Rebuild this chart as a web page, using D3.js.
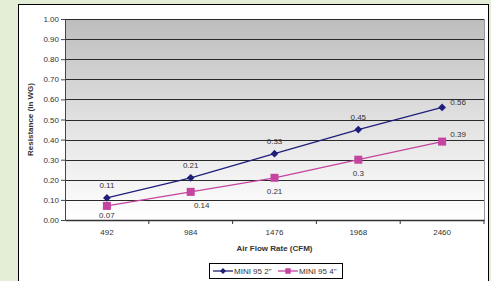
<!DOCTYPE html>
<html>
<head>
<script src="https://cdn.jsdelivr.net/npm/d3@7/dist/d3.min.js"></script>
<style>
  body { margin: 0; background: #e4edd5; }
  text { font-family: "Liberation Sans", Arial, sans-serif; fill: #333; }
</style>
</head>
<body>
<div id="chart"></div>
<script>
var categories = ["492", "984", "1476", "1968", "2460"];
var series2in = [0.11, 0.21, 0.33, 0.45, 0.56];
var series4in = [0.07, 0.14, 0.21, 0.3, 0.39];
var seriesNames = ['MINI 95 2"', 'MINI 95 4"'];
var yTicks = [0, 0.1, 0.2, 0.3, 0.4, 0.5, 0.6, 0.7, 0.8, 0.9, 1.0];

var W = 491, H = 281;
var svg = d3.select("#chart").append("svg")
    .attr("width", W).attr("height", H);

// chart box
svg.append("rect")
    .attr("x", 18.5).attr("y", 4.5)
    .attr("width", 470).attr("height", 290)
    .attr("fill", "#fff").attr("stroke", "#000").attr("stroke-width", 1);

var pLeft = 65, pRight = 484, pTop = 19, pBottom = 220;

var x = d3.scaleBand().domain(categories).range([pLeft, pRight]);
var y = d3.scaleLinear().domain([0, 1]).range([pBottom, pTop]);

var grad = svg.append("defs").append("linearGradient")
    .attr("id", "bg").attr("x1", 0).attr("y1", 0).attr("x2", 0).attr("y2", 1);
grad.append("stop").attr("offset", "0%").attr("stop-color", "#bdbdbd");
grad.append("stop").attr("offset", "55%").attr("stop-color", "#e4e4e4");
grad.append("stop").attr("offset", "100%").attr("stop-color", "#ffffff");

svg.append("rect")
    .attr("x", pLeft).attr("y", pTop)
    .attr("width", pRight - pLeft).attr("height", pBottom - pTop)
    .attr("fill", "url(#bg)");

// gridlines
svg.append("g").selectAll("line")
    .data(yTicks.slice(1))
    .enter().append("line")
    .attr("x1", pLeft).attr("x2", pRight)
    .attr("y1", function(d) { return Math.round(y(d)) + 0.5; })
    .attr("y2", function(d) { return Math.round(y(d)) + 0.5; })
    .attr("stroke", "#2a2a2a").attr("stroke-width", 1.2);

// right edge
svg.append("line")
    .attr("x1", pRight + 0.5).attr("x2", pRight + 0.5)
    .attr("y1", pTop).attr("y2", pBottom)
    .attr("stroke", "#999");

// y axis
var yAxis = svg.append("g")
    .attr("transform", "translate(" + pLeft + ",0)")
    .call(d3.axisLeft(y).tickValues(yTicks).tickFormat(d3.format(".2f")).tickSize(4).tickSizeOuter(0));
yAxis.select(".domain").attr("stroke", "#444");
yAxis.selectAll(".tick line").attr("stroke", "#444");
yAxis.selectAll("text").style("font-size", "8px").attr("x", -6).attr("fill", "#333")
    .style("font-family", "Liberation Sans, Arial, sans-serif");

// x axis
var xAxis = svg.append("g")
    .attr("transform", "translate(0," + pBottom + ")")
    .call(d3.axisBottom(x).tickSize(0).tickSizeOuter(0));
xAxis.select(".domain").attr("stroke", "#333").attr("stroke-width", 1.5);
xAxis.selectAll("text").style("font-size", "8px").attr("dy", "1.5em").attr("fill", "#333")
    .style("font-family", "Liberation Sans, Arial, sans-serif");
// tick marks at category boundaries
svg.append("g").selectAll("line")
    .data(categories.slice(1).concat(["end"]))
    .enter().append("line")
    .attr("x1", function(d, i) { return i < categories.length - 1 ? x(d) : pRight; })
    .attr("x2", function(d, i) { return i < categories.length - 1 ? x(d) : pRight; })
    .attr("y1", pBottom).attr("y2", pBottom + 4)
    .attr("stroke", "#333");

svg.append("text")
    .attr("x", (pLeft + pRight) / 2).attr("y", 251)
    .attr("text-anchor", "middle")
    .style("font-size", "8px").style("font-weight", "bold")
    .text("Air Flow Rate (CFM)");

svg.append("text")
    .attr("transform", "translate(33," + ((pTop + pBottom) / 2) + ") rotate(-90)")
    .attr("text-anchor", "middle")
    .style("font-size", "8px").style("font-weight", "bold")
    .text("Resistance (in WG)");

var cx = function(d, i) { return x(categories[i]) + x.bandwidth() / 2; };
var line = d3.line().x(cx).y(function(d) { return y(d); });

var colors = ["#1f1f7a", "#c4449f"];

// series lines
[series2in, series4in].forEach(function(s, k) {
    svg.append("path").datum(s)
        .attr("d", line)
        .attr("fill", "none").attr("stroke", colors[k]).attr("stroke-width", 1.3);
});

// markers
svg.append("g").selectAll("path")
    .data(series2in).enter().append("path")
    .attr("transform", function(d, i) { return "translate(" + cx(d, i) + "," + y(d) + ") rotate(45)"; })
    .attr("d", d3.symbol().type(d3.symbolSquare).size(30))
    .attr("fill", colors[0]);
svg.append("g").selectAll("rect")
    .data(series4in).enter().append("rect")
    .attr("x", function(d, i) { return cx(d, i) - 4; })
    .attr("y", function(d) { return y(d) - 4; })
    .attr("width", 8).attr("height", 8)
    .attr("fill", colors[1]);

// data labels
var last = categories.length - 1;
svg.append("g").selectAll("text")
    .data(series2in).enter().append("text")
    .attr("x", function(d, i) { return i === last ? cx(d, i) + 16 : cx(d, i); })
    .attr("y", function(d, i) { return i === last ? y(d) - 2 : y(d) - 10; })
    .attr("text-anchor", "middle")
    .style("font-size", "8px")
    .text(function(d) { return d; });
svg.append("g").selectAll("text")
    .data(series4in).enter().append("text")
    .attr("x", function(d, i) { return i === last ? cx(d, i) + 16 : (i === 1 ? cx(d, i) + 11 : cx(d, i)); })
    .attr("y", function(d, i) { return i === last ? y(d) - 5 : (i === 0 ? y(d) + 12 : y(d) + 16); })
    .attr("text-anchor", "middle")
    .style("font-size", "8px")
    .text(function(d) { return d; });

// legend
var lg = svg.append("g").attr("transform", "translate(209,263)");
lg.append("rect").attr("x", 0.5).attr("y", 0.5).attr("width", 133).attr("height", 15)
    .attr("fill", "#fff").attr("stroke", "#000");
var items = lg.selectAll("g.item").data(seriesNames).enter().append("g")
    .attr("transform", function(d, i) { return "translate(" + (4 + i * 65) + ",8)"; });
items.append("line").attr("x1", 0).attr("x2", 20).attr("y1", 0).attr("y2", 0)
    .attr("stroke", function(d, i) { return colors[i]; }).attr("stroke-width", 1.3);
items.append("path")
    .attr("transform", function(d, i) { return "translate(10,0)" + (i === 0 ? " rotate(45)" : ""); })
    .attr("d", function(d, i) { return d3.symbol().type(d3.symbolSquare).size(i === 0 ? 18 : 30)(); })
    .attr("fill", function(d, i) { return colors[i]; });
items.append("text").attr("x", 21).attr("y", 3)
    .attr("fill", "#333")
    .style("font-size", "8px")
    .text(function(d) { return d; });
</script>
</body>
</html>
